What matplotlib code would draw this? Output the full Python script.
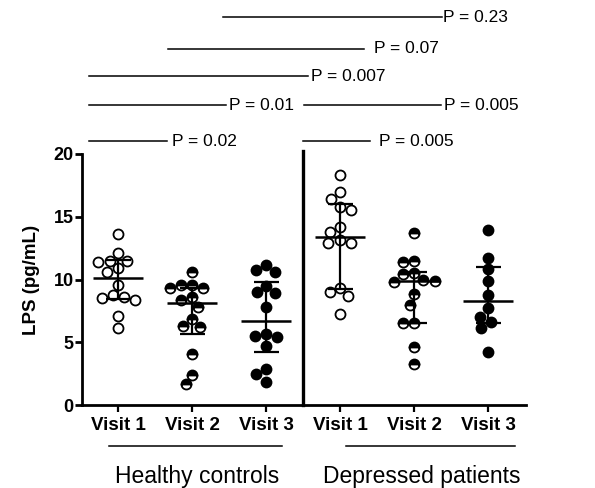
import numpy as np
import matplotlib
matplotlib.use("Agg")
import matplotlib.pyplot as plt

plt.rcParams['font.family'] = ['Liberation Sans', 'DejaVu Sans']

# ---------------- data ----------------
tick_labels = ["Visit 1", "Visit 2", "Visit 3", "Visit 1", "Visit 2", "Visit 3"]
group_labels = ["Healthy controls", "Depressed patients"]

hc_v1 = [13.6, 12.1, 11.5, 11.4, 11.5, 10.9, 10.6, 9.6, 8.8, 8.5, 8.4, 8.6, 7.1, 6.1]
hc_v2 = [10.6, 9.6, 9.3, 9.35, 9.6, 8.6, 8.4, 7.8, 6.85, 6.2, 6.3, 4.1, 2.4, 1.65]
hc_v3 = [11.15, 10.6, 10.75, 9.5, 9.0, 8.95, 7.8, 5.65, 5.45, 5.5, 4.7, 2.85, 2.5, 1.8]
dp_v1 = [18.3, 16.95, 16.4, 15.75, 15.55, 14.2, 13.8, 13.15, 12.9, 12.9, 9.0, 9.35, 8.65, 7.25]
dp_v2 = [13.7, 11.5, 11.4, 10.5, 10.4, 9.95, 9.9, 9.8, 8.85, 8.0, 6.5, 6.5, 4.65, 3.25]
dp_v3 = [13.95, 11.75, 10.8, 9.85, 8.75, 7.7, 7.05, 6.65, 6.1, 4.2]

centers = [10.15, 8.15, 6.7, 13.4, 9.85, 8.3]
lower = [8.45, 5.65, 4.2, 9.25, 6.5, 6.5]
upper = [11.55, 9.35, 9.8, 16.0, 10.6, 11.0]

# comparison brackets: x start, x end, y, label x, label
cmp_x0 = [1.41, 0.67, -0.39, -0.39, 2.51, -0.39, 2.49]
cmp_x1 = [4.37, 3.32, 2.57, 1.45, 4.36, 0.66, 3.40]
cmp_y = [30.9, 28.4, 26.2, 23.9, 23.9, 21.0, 21.0]
cmp_tx = [4.39, 3.45, 2.61, 1.50, 4.40, 0.73, 3.53]
cmp_lab = ["P = 0.23", "P = 0.07", "P = 0.007", "P = 0.01", "P = 0.005", "P = 0.02", "P = 0.005"]

groups = [hc_v1, hc_v2, hc_v3, dp_v1, dp_v2, dp_v3]
visit_style = ["open", "half", "filled", "open", "half", "filled"]

# ---------------- figure ----------------
fig = plt.figure(figsize=(5.95, 4.88), dpi=100)
ax = fig.add_axes([82 / 595, 83 / 488, 444 / 595, 251 / 488])
ax.set_xlim(-0.49, 5.51)
ax.set_ylim(0, 20)


def swarm(values, center, d_px):
    tr = ax.transData
    ppu_x = tr.transform((1, 0))[0] - tr.transform((0, 0))[0]
    placed = []
    out = [None] * len(values)
    order = sorted(range(len(values)), key=lambda i: -values[i])
    for i in order:
        y = tr.transform((center, values[i]))[1]
        cands = [0.0]
        for (px, py) in placed:
            dy = abs(py - y)
            if dy < d_px:
                dx = np.sqrt(d_px ** 2 - dy ** 2)
                cands += [px + dx, px - dx]
        cands.sort(key=lambda c: (abs(c), c))
        chosen = 0.0
        for c in cands:
            if all((c - px) ** 2 + (y - py) ** 2 >= d_px ** 2 - 1e-6 for px, py in placed):
                chosen = c
                break
        placed.append((chosen, y))
        out[i] = center + chosen / ppu_x
    return out


for k, vals in enumerate(groups):
    xs = swarm(vals, k, 11.5)
    st = visit_style[k]
    if st == "open":
        kw = dict(markerfacecolor="white", fillstyle="full")
    elif st == "half":
        kw = dict(fillstyle="top", markerfacecolor="black", markerfacecoloralt="white")
    else:
        kw = dict(markerfacecolor="black", fillstyle="full")
    ax.plot(xs, vals, linestyle="none", marker="o", markersize=7.2,
            markeredgecolor="black", markeredgewidth=1.3, zorder=3, **kw)

# median / range bars
xpos = np.arange(len(groups))
ax.hlines(centers, xpos - 0.34, xpos + 0.34, color="black", lw=1.8, zorder=4)
ax.errorbar(xpos, centers,
            yerr=[np.array(centers) - np.array(lower), np.array(upper) - np.array(centers)],
            fmt="none", ecolor="black", elinewidth=1.6, capsize=9, capthick=1.6, zorder=4)

# divider between groups
ax.plot([2.5, 2.5], [0, 20.2], color="black", lw=2.4, clip_on=False, zorder=5)

# axes styling
for s in ["top", "right"]:
    ax.spines[s].set_visible(False)
for s in ["left", "bottom"]:
    ax.spines[s].set_linewidth(2.0)
ax.set_yticks([0, 5, 10, 15, 20])
ax.set_yticklabels(["0", "5", "10", "15", "20"], fontsize=13, fontweight="bold")
ax.set_xticks(xpos)
ax.set_xticklabels(tick_labels, fontsize=13.5, fontweight="bold")
ax.tick_params(axis="y", length=5, width=2.0, pad=1)
ax.tick_params(axis="x", length=5, width=1.6, pad=4)
ax.set_ylabel("LPS (pg/mL)", fontsize=13.5, fontweight="bold", labelpad=10)

# comparison annotations
for x0, x1, y, tx, lab in zip(cmp_x0, cmp_x1, cmp_y, cmp_tx, cmp_lab):
    ax.plot([x0, x1], [y, y], color="black", lw=1.1, clip_on=False)
    ax.text(tx, y, lab, fontsize=12.5, ha="left", va="center", clip_on=False)

# group labels
grp_x0 = [-0.13, 3.08]
grp_x1 = [2.21, 5.36]
grp_tx = [1.06, 4.10]
for x0, x1, tx, lab in zip(grp_x0, grp_x1, grp_tx, group_labels):
    ax.plot([x0, x1], [-3.27, -3.27], color="black", lw=1.1, clip_on=False)
    ax.text(tx, -5.66, lab, fontsize=16.5, ha="center", va="center", clip_on=False)

fig.savefig("out.png", dpi=100)
